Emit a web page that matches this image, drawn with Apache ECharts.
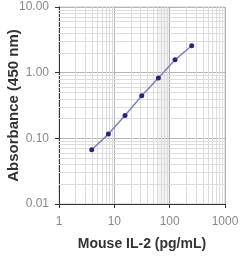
<!DOCTYPE html>
<html>
<head>
<meta charset="utf-8">
<script src="https://cdn.jsdelivr.net/npm/echarts@6/dist/echarts.min.js"></script>
<style>
html, body { margin: 0; padding: 0; background: #fff; }
#main { width: 250px; height: 257px; }
</style>
</head>
<body>
<div id="main"></div>
<script>
// standard curve, doubling dilutions
var concentration = [3.9, 7.8, 15.6, 31.25, 62.5, 125, 250];
var absorbance = [0.067, 0.116, 0.223, 0.445, 0.83, 1.57, 2.57];

var xMinorGrid = [2, 3, 4, 5, 6, 7, 8, 9, 20, 30, 40, 50, 60, 70, 80, 90, 200, 300, 400, 500, 600, 700, 800, 900];
var yMinorGrid = [0.02, 0.03, 0.04, 0.05, 0.06, 0.07, 0.08, 0.09, 0.2, 0.3, 0.4, 0.5, 0.6, 0.7, 0.8, 0.9, 2, 3, 4, 5, 6, 7, 8, 9];

var chart = echarts.init(document.getElementById('main'));

var minorLines = xMinorGrid.map(function (v) { return { xAxis: v }; })
	.concat(yMinorGrid.map(function (v) { return { yAxis: v }; }));

var option = {
	animation: false,
	grid: {
		left: 59, top: 7, width: 166, height: 197,
		outerBoundsMode: 'none', containLabel: false,
		show: true, borderColor: '#c8c8c8', borderWidth: 1
	},
	xAxis: {
		type: 'log',
		logBase: 10,
		min: 1,
		max: 1000,
		name: 'Mouse IL-2 (pg/mL)',
		nameLocation: 'middle',
		nameGap: 33,
		nameMoveOverlap: false,
		nameTextStyle: { fontFamily: 'Liberation Sans', fontWeight: 'bold', fontSize: 14, color: '#333' },
		axisLine: { lineStyle: { color: '#333', width: 1 } },
		axisTick: { show: true, length: 4, lineStyle: { color: '#333' } },
		axisLabel: {
			fontFamily: 'Liberation Sans', fontSize: 12, color: '#888', margin: 12,
			formatter: function (v) { return String(Math.round(v)); }
		},
		splitLine: { show: true, lineStyle: { color: '#b4b4b4', width: 1 } }
	},
	yAxis: {
		type: 'log',
		logBase: 10,
		min: 0.01,
		max: 10,
		name: 'Absorbance (450 nm)',
		nameLocation: 'middle',
		nameGap: 38,
		nameMoveOverlap: false,
		nameTextStyle: { fontFamily: 'Liberation Sans', fontWeight: 'bold', fontSize: 15, color: '#333' },
		axisLine: { show: true, lineStyle: { color: '#333', width: 1 } },
		axisTick: { show: true, length: 4, lineStyle: { color: '#333' } },
		axisLabel: {
			fontFamily: 'Liberation Sans', fontSize: 12, color: '#888', margin: 10,
			formatter: function (v) { return Number(v).toFixed(2); }
		},
		splitLine: { show: true, lineStyle: { color: '#b4b4b4', width: 1 } }
	},
	series: [
		{
			type: 'line',
			data: [],
			silent: true,
			markLine: {
				silent: true,
				symbol: 'none',
				label: { show: false },
				lineStyle: { color: '#dcdcdc', width: 1, type: 'solid' },
				data: minorLines
			},
			markArea: {
				silent: true,
				itemStyle: { color: 'rgba(0,0,0,0.05)' },
				data: [[{ xAxis: 62 }, { xAxis: 100 }]]
			}
		},
		{
			type: 'line',
			data: concentration.map(function (c, i) { return [c, absorbance[i]]; }),
			symbol: 'circle',
			symbolSize: 5,
			lineStyle: { color: '#8080c0', width: 1.5 },
			itemStyle: { color: '#27277a' },
			z: 5
		}
	]
};
chart.setOption(option);
</script>
</body>
</html>
